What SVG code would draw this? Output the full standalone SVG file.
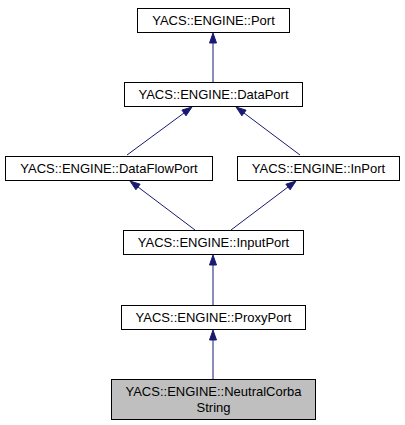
<svg xmlns="http://www.w3.org/2000/svg" width="405" height="425" viewBox="0 0 405 425">
<style>
.box{fill:#ffffff;stroke:#000000;stroke-width:1}
.cur{fill:#bfbfbf;stroke:#000000;stroke-width:1}
.lbl{font-family:"Liberation Sans",Arial,sans-serif;font-size:13px;fill:#000000;text-anchor:middle}
.edge{stroke:#191970;stroke-width:1;fill:none}
.head{fill:#191970;stroke:#191970;stroke-width:1}
</style>
<rect width="405" height="425" fill="#ffffff"/>
<g id="connectors">
<line class="edge" x1="213" y1="82" x2="213" y2="43"/>
<polygon class="head" points="213,33 209.5,43 216.5,43"/>
<line class="edge" x1="127" y1="155" x2="184" y2="113"/>
<polygon class="head" points="192,107 186,115.8 181.9,110.1"/>
<line class="edge" x1="300" y1="155" x2="244" y2="113"/>
<polygon class="head" points="236,107 246.1,110.2 241.9,115.8"/>
<line class="edge" x1="195" y1="230" x2="138" y2="187"/>
<polygon class="head" points="130,181 140.1,184.2 135.9,189.8"/>
<line class="edge" x1="231" y1="230" x2="288" y2="187"/>
<polygon class="head" points="296,181 290.1,189.8 285.9,184.2"/>
<line class="edge" x1="213" y1="305" x2="213" y2="265"/>
<polygon class="head" points="213,255 209.5,265 216.5,265"/>
<line class="edge" x1="213" y1="379" x2="213" y2="340"/>
<polygon class="head" points="213,330 209.5,340 216.5,340"/>
</g>
<g id="Port">
<rect class="box" x="137.5" y="8.5" width="152" height="24"/>
<text class="lbl" x="213.5" y="25">YACS::ENGINE::Port</text>
</g>
<g id="DataPort">
<rect class="box" x="124.5" y="82.5" width="178" height="24"/>
<text class="lbl" x="213.5" y="99">YACS::ENGINE::DataPort</text>
</g>
<g id="DataFlowPort">
<rect class="box" x="5.5" y="156.5" width="207" height="24"/>
<text class="lbl" x="109" y="173">YACS::ENGINE::DataFlowPort</text>
</g>
<g id="InPort">
<rect class="box" x="237.5" y="156.5" width="162" height="24"/>
<text class="lbl" x="318.5" y="173">YACS::ENGINE::InPort</text>
</g>
<g id="InputPort">
<rect class="box" x="123.5" y="230.5" width="180" height="24"/>
<text class="lbl" x="213.5" y="247">YACS::ENGINE::InputPort</text>
</g>
<g id="ProxyPort">
<rect class="box" x="121.5" y="305.5" width="184" height="24"/>
<text class="lbl" x="213.5" y="322">YACS::ENGINE::ProxyPort</text>
</g>
<g id="NeutralCorbaString">
<rect class="cur" x="111.5" y="379.5" width="204" height="40"/>
<text class="lbl" x="213.5" y="396">YACS::ENGINE::NeutralCorba</text>
<text class="lbl" x="213.5" y="412">String</text>
</g>
</svg>
